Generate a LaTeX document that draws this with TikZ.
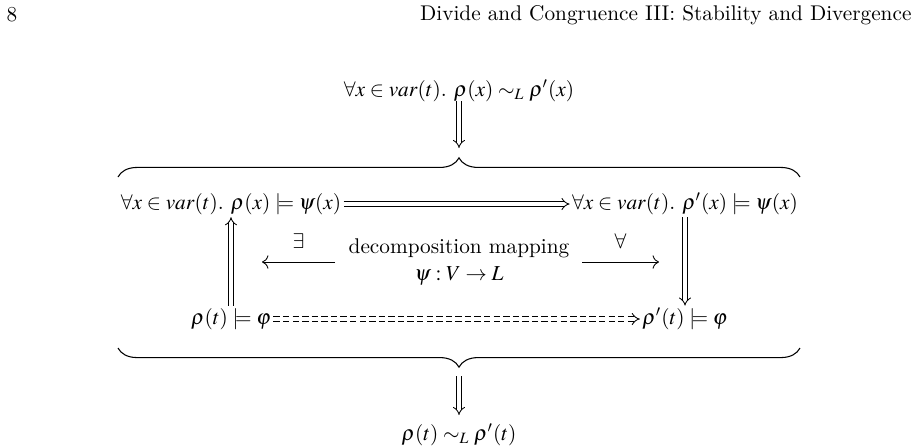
\documentclass[tikz,border=0pt]{standalone}
\usepackage{mathptmx}
\usetikzlibrary{arrows.meta,decorations.pathreplacing}
\begin{document}
\begin{tikzpicture}[x=0.47pt,y=-0.47pt,
  lbl/.style={inner sep=1pt},
  dbl/.style={double,double distance=1.6pt,-{Implies},line width=0.4pt},
  dsh/.style={double,double distance=1.6pt,dashed,dash pattern=on 3pt off 1.5pt,-{Implies}},
  sgl/.style={-{To[length=3pt]},line width=0.4pt},
  br/.style={decorate,decoration={brace,amplitude=9pt},line width=0.5pt}]
\useasboundingbox (0,0) rectangle (919,447);
\node[lbl,anchor=west] (pg) at (4,15) {8};
\node[lbl,anchor=east] (ti) at (914,15) {\itshape Divide and Congruence III: Stability and Divergence};
\node[lbl] (top) at (459,91) {$\forall x\in \mathit{var}(t).\ \rho(x)\sim_L \rho'(x)$};
\coordinate (ta) at (459,101); \coordinate (tb) at (459,148);
\draw[dbl] (ta) -- (tb);
\coordinate (b1a) at (118,177); \coordinate (b1b) at (800,177);
\draw[br] (b1a) -- (b1b);
\node[lbl] (L1) at (231,204) {$\forall x\in \mathit{var}(t).\ \rho(x)\models \psi(x)$};
\node[lbl] (R1) at (685,204) {$\forall x\in \mathit{var}(t).\ \rho'(x)\models \psi(x)$};
\draw[dbl] (L1) -- (R1);
\node[lbl] (L2) at (231,319) {$\rho(t)\models \varphi$};
\node[lbl] (R2) at (685,319) {$\rho'(t)\models \varphi$};
\draw[dsh] (L2) -- (R2);
\draw[dbl] (L2) -- (L1);
\draw[dbl] (R1) -- (R2);
\node[lbl,align=center] (dm) at (459,262) {decomposition mapping\\[1pt] $\psi: V\to L$};
\coordinate (la) at (335,262); \coordinate (lb) at (262,262);
\coordinate (ra) at (582,262); \coordinate (rb) at (659,262);
\draw[sgl] (la) -- (lb) node[midway,above=3pt] (ex) {$\exists$};
\draw[sgl] (ra) -- (rb) node[midway,above=3pt] (fa) {$\forall$};
\coordinate (b2a) at (800,348); \coordinate (b2b) at (118,348);
\draw[br] (b2a) -- (b2b);
\coordinate (ba) at (459,376); \coordinate (bb) at (459,415);
\draw[dbl] (ba) -- (bb);
\node[lbl] (bot) at (459,435) {$\rho(t)\sim_L \rho'(t)$};
\end{tikzpicture}
\end{document}
